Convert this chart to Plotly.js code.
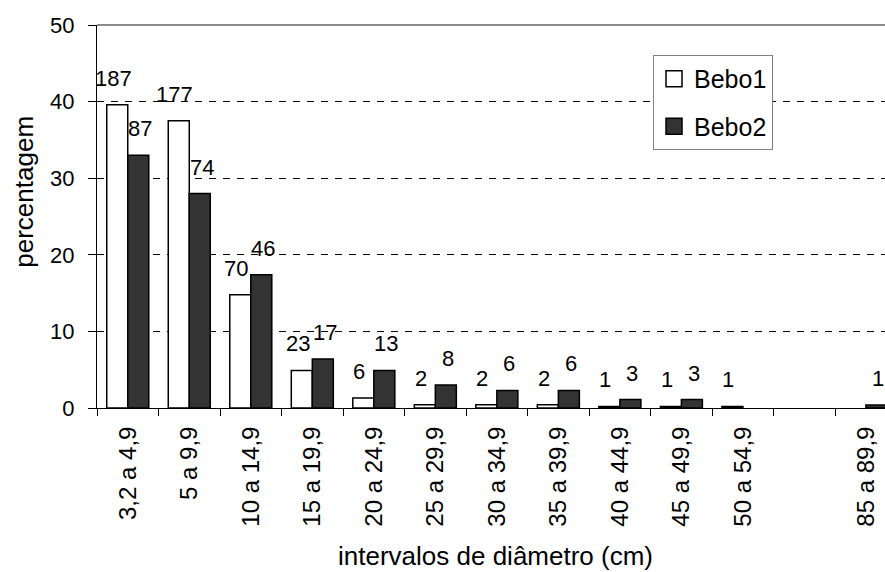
<!DOCTYPE html>
<html>
<head>
<meta charset="utf-8">
<script src="https://cdn.plot.ly/plotly-3.0.1.min.js"></script>
<style>
  html, body { margin: 0; padding: 0; background: #ffffff; }
  #chart { width: 885px; height: 572px; }
</style>
</head>
<body>
<div id="chart"></div>
<script>
// Diameter classes (cm); the blank class keeps the gap before the last one
const intervals = ['3,2 a 4,9', '5 a 9,9', '10 a 14,9', '15 a 19,9', '20 a 24,9', '25 a 29,9',
                   '30 a 34,9', '35 a 39,9', '40 a 44,9', '45 a 49,9', '50 a 54,9', ' ', '85 a 89,9'];

// Number of trees per class
const bebo1Count = [187, 177, 70, 23, 6, 2, 2, 2, 1, 1, 1, null, null];
const bebo2Count = [87, 74, 46, 17, 13, 8, 6, 6, 3, 3, null, null, 1];

// Share of trees per class (%)
const bebo1Pct = [39.6, 37.5, 14.8, 4.9, 1.3, 0.42, 0.42, 0.42, 0.21, 0.21, 0.21, null, null];
const bebo2Pct = [33.0, 28.0, 17.4, 6.4, 4.9, 3.0, 2.3, 2.3, 1.1, 1.1, null, null, 0.38];

const seriesNames = ['Bebo1', 'Bebo2'];

const FONT = 'Arial, "Liberation Sans", Helvetica, sans-serif';
const BAR_GAP = 0.317;
const half = (1 - BAR_GAP) / 4;   // centre offset of each bar within its group

const barLine = { color: '#000000', width: 1.5 };

const traces = [
  {
    type: 'bar', name: seriesNames[0], x: intervals, y: bebo1Pct,
    marker: { color: '#ffffff', line: barLine }, showlegend: false, hoverinfo: 'skip'
  },
  {
    type: 'bar', name: seriesNames[1], x: intervals, y: bebo2Pct,
    marker: { color: '#333333', line: barLine }, showlegend: false, hoverinfo: 'skip'
  },
  // legend keys with larger square swatches
  {
    type: 'scatter', mode: 'markers', name: seriesNames[0], x: [null], y: [null],
    legendgroup: 'a',
    marker: { symbol: 'square', size: 16, color: '#ffffff', line: { color: '#000000', width: 1.5 } }
  },
  {
    type: 'scatter', mode: 'markers', name: seriesNames[1], x: [null], y: [null],
    legendgroup: 'b',
    marker: { symbol: 'square', size: 16, color: '#333333', line: { color: '#000000', width: 1.5 } }
  }
];

// count labels above each bar
const annotations = [];
function addLabels(counts, pcts, dx, shiftX) {
  counts.forEach((c, i) => {
    if (c === null || pcts[i] === null) return;
    annotations.push({
      x: i + dx, y: pcts[i], xref: 'x', yref: 'y',
      text: String(c), showarrow: false,
      yanchor: 'bottom', xanchor: 'center',
      yshift: 12, xshift: shiftX,
      font: { family: FONT, size: 22, color: '#000000' }
    });
  });
}
addLabels(bebo1Count, bebo1Pct, -half, -4);
addLabels(bebo2Count, bebo2Pct, half, 2);

// axis titles
annotations.push({
  xref: 'paper', yref: 'paper', x: 0.506, y: -0.386,
  xanchor: 'center', yanchor: 'middle', showarrow: false,
  text: 'intervalos de diâmetro (cm)',
  font: { family: FONT, size: 26, color: '#000000' }
});
annotations.push({
  xref: 'paper', yref: 'paper', x: -0.093, y: 0.564,
  xanchor: 'center', yanchor: 'middle', showarrow: false, textangle: -90,
  text: 'percentagem',
  font: { family: FONT, size: 26, color: '#000000' }
});

const layout = {
  width: 885, height: 572,
  margin: { l: 97, r: 0, t: 25, b: 164 },
  paper_bgcolor: '#ffffff', plot_bgcolor: '#ffffff',
  font: { family: FONT, color: '#000000' },
  barmode: 'group', bargap: BAR_GAP, bargroupgap: 0,
  showlegend: true,
  legend: {
    x: 0.7056, y: 0.9217, xanchor: 'left', yanchor: 'top',
    bgcolor: '#ffffff', bordercolor: '#808080', borderwidth: 1,
    font: { family: FONT, size: 25, color: '#000000' },
    tracegroupgap: 12, itemclick: false
  },
  xaxis: {
    type: 'category', categoryorder: 'array', categoryarray: intervals,
    range: [-0.5, 12.31], fixedrange: true,
    showline: true, linecolor: '#000000', linewidth: 1,
    ticks: 'outside', tickson: 'boundaries', ticklen: 7, tickcolor: '#000000', tickwidth: 1,
    tickangle: -90, ticklabelstandoff: 8,
    tickfont: { family: FONT, size: 24, color: '#000000' },
    showgrid: false, zeroline: false, automargin: false
  },
  yaxis: {
    range: [0, 50], dtick: 10, tick0: 0, fixedrange: true,
    showline: true, linecolor: '#000000', linewidth: 1,
    ticks: 'outside', ticklen: 8, tickcolor: '#000000', tickwidth: 1,
    ticklabelstandoff: 9,
    tickfont: { family: FONT, size: 22, color: '#000000' },
    showgrid: true, gridcolor: '#000000', gridwidth: 1, griddash: '7px,7px',
    zeroline: false, automargin: false
  },
  shapes: [
    { type: 'line', xref: 'paper', yref: 'paper', x0: 0, x1: 1, y0: 1, y1: 1,
      line: { color: '#8c8c8c', width: 2 }, layer: 'above' }
  ],
  annotations: annotations
};

Plotly.newPlot('chart', traces, layout, { staticPlot: true, displayModeBar: false });
</script>
</body>
</html>
